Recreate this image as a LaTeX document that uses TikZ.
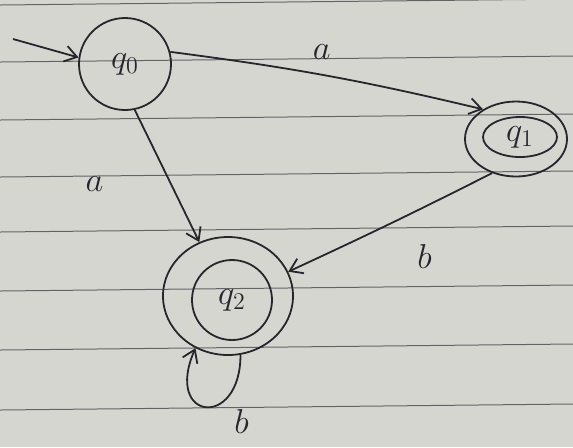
\documentclass[tikz,border=0pt]{standalone}
\usetikzlibrary{arrows.meta,shapes.geometric}

\definecolor{paper}{RGB}{214,214,209}
\definecolor{ink}{RGB}{38,38,44}
\definecolor{ruleline}{RGB}{100,100,104}

\begin{document}
\begin{tikzpicture}[
  x=0.5pt,y=-0.5pt,
  state/.style={draw=ink,circle,line width=0.9pt,inner sep=0pt,font=\LARGE,text=ink},
  ring/.style={draw=ink,ellipse,line width=0.9pt,inner sep=0pt,font=\LARGE,text=ink},
  move/.style={draw=ink,line width=0.9pt,-{Straight Barb[length=6pt,width=8pt]}},
  lbl/.style={font=\LARGE,text=ink},
  ruling/.style={draw=ruleline,line width=0.5pt}
]
  \fill[paper] (0,0) rectangle (573,447);
  \useasboundingbox (0,0) rectangle (573,447);
  \foreach \y in {5,62,120,177,232,291,350,410}
    \draw[ruling] (0,\y) -- (573,\y-6);

  \node[state,minimum size=46pt] (q0) at (125,64) {$q_0$};
  \node[ring,minimum width=51pt,minimum height=37.5pt] (q1) at (516,139) {};
  \node[ring,minimum width=37pt,minimum height=20pt] (q1in) at (520,137) {$q_1$};
  \node[ring,minimum width=65pt,minimum height=59pt] (q2) at (228,296) {};
  \node[state,minimum size=40pt] (q2in) at (232,300) {$q_2$};
  \coordinate (start) at (13,39);

  \draw[move] (start) -- (q0.172);
  \draw[move] (q0.15) to[bend left=3] node[lbl,above=4pt,pos=.48]{$a$} (q1.138);
  \draw[move] (q0.-78) -- node[lbl,left=30pt,pos=.56]{$a$} (q2.118);
  \draw[move] (q1.-125) to[bend left=1] node[lbl,below=15pt,pos=.32]{$b$} (q2.22);
  \draw[move] (q2.-78) .. controls +(0,75) and +(-32,73) .. node[lbl,below right=1pt,pos=.3]{$b$} (q2.-122);
\end{tikzpicture}
\end{document}
